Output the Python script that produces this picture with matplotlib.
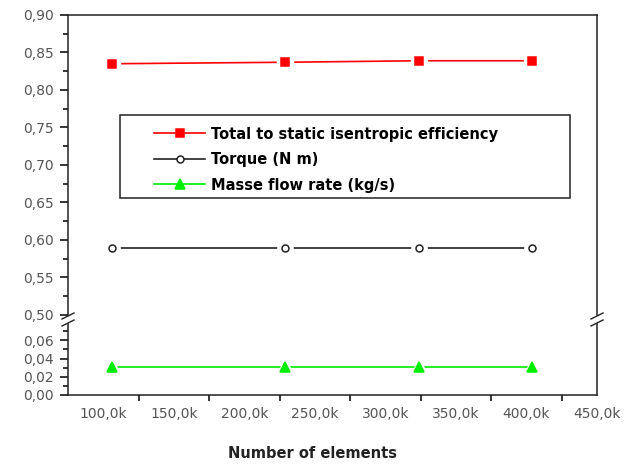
import matplotlib
matplotlib.use('Agg')
import matplotlib.pyplot as plt
import numpy as np
from matplotlib.ticker import FixedLocator, FuncFormatter
from matplotlib.patches import Rectangle

# data
elements = [106e3, 229e3, 324e3, 404e3]
efficiency = [0.835, 0.837, 0.839, 0.839]
torque = [0.59, 0.59, 0.59, 0.59]
mass_flow = [0.031, 0.031, 0.031, 0.031]

x_major = [100e3, 150e3, 200e3, 250e3, 300e3, 350e3, 400e3, 450e3]
x_labels = ['100,0k', '150,0k', '200,0k', '250,0k', '300,0k', '350,0k', '400,0k', '450,0k']
x_minor = [125e3, 175e3, 225e3, 275e3, 325e3, 375e3, 425e3]

fig = plt.figure(figsize=(6.4, 4.68), dpi=100)
L, W = 68 / 640, 529 / 640
ax_top = fig.add_axes([L, 1 - 315 / 468, W, 300 / 468])
ax_bot = fig.add_axes([L, 1 - 395 / 468, W, 71 / 468])

gray = '#555555'
fmt = FuncFormatter(lambda v, p: ('%.2f' % v).replace('.', ','))

for ax in (ax_top, ax_bot):
    ax.set_xlim(75e3, 450e3)
    for s in ax.spines.values():
        s.set_linewidth(1.1)
        s.set_color('#222222')
    ax.tick_params(axis='y', which='major', direction='out', length=6, width=1.1,
                   labelsize=10, labelcolor=gray, pad=4, right=False)
    ax.tick_params(axis='y', which='minor', direction='out', length=3.5, width=1.1, right=False)
    ax.yaxis.set_major_formatter(fmt)

ax_top.spines['bottom'].set_visible(False)
ax_bot.spines['top'].set_visible(False)
ax_top.set_ylim(0.50, 0.90)
ax_top.yaxis.set_major_locator(FixedLocator(np.arange(0.50, 0.901, 0.05)))
ax_top.yaxis.set_minor_locator(FixedLocator(np.arange(0.525, 0.90, 0.05)))
ax_top.tick_params(axis='x', which='both', bottom=False, top=False, labelbottom=False)

ax_bot.set_ylim(0.0, 0.078)
ax_bot.yaxis.set_major_locator(FixedLocator([0.0, 0.02, 0.04, 0.06]))
ax_bot.yaxis.set_minor_locator(FixedLocator([0.01, 0.03, 0.05, 0.07]))
ax_bot.set_xticks(x_major, x_labels)
ax_bot.xaxis.set_minor_locator(FixedLocator(x_minor))
ax_bot.tick_params(axis='x', which='major', length=0, labelsize=10, labelcolor=gray, pad=9)
ax_bot.tick_params(axis='x', which='minor', direction='out', length=4, width=1.1)

# lines with small gaps around markers
def series(ax, y, color, marker, ms, face, label):
    ax.plot(elements, y, color=color, lw=1.2, zorder=2)
    ax.plot(elements, y, ls='none', marker=marker, ms=ms + 6, mfc='white', mec='white', zorder=3)
    ax.plot(elements, y, ls='none', marker=marker, ms=ms, mfc=face, mec=color, mew=1.1, zorder=4)
    return ax.plot([], [], color=color, lw=1.2, marker=marker, ms=ms, mfc=face, mec=color, mew=1.1, label=label)[0]

h1 = series(ax_top, efficiency, '#ff0000', 's', 5.5, '#ff0000', 'Total to static isentropic efficiency')
h2 = series(ax_top, torque, '#222222', 'o', 5, 'white', 'Torque (N m)')
h3 = series(ax_bot, mass_flow, '#00ee00', '^', 7, '#00ee00', 'Masse flow rate (kg/s)')

# legend frame drawn separately so its size matches the original
ax_top.add_patch(Rectangle((0.0983, 0.39), 0.8507, 0.2767, transform=ax_top.transAxes,
                           fill=True, facecolor='white', edgecolor='#222222', lw=1.1, zorder=5))
leg = ax_top.legend(handles=[h1, h2, h3], loc='upper left', frameon=False,
                    bbox_to_anchor=(0.1626, 0.628), borderaxespad=0, borderpad=0,
                    prop={'weight': 'bold', 'size': 10.5}, handlelength=3.5,
                    labelspacing=0.72, handletextpad=0.4)
leg.set_zorder(6)

# break marks
for xp in (68, 597):
    for yp in (316, 323):
        fig.add_artist(plt.Line2D([(xp - 6) / 640, (xp + 6) / 640],
                                  [1 - (yp + 3) / 468, 1 - (yp - 3) / 468],
                                  color='#222222', lw=1.0))

fig.text(312 / 640, 1 - 453 / 468, 'Number of elements', ha='center', va='center',
         fontsize=10.5, fontweight='bold', color='#222222')

fig.savefig('out.png', dpi=100)
